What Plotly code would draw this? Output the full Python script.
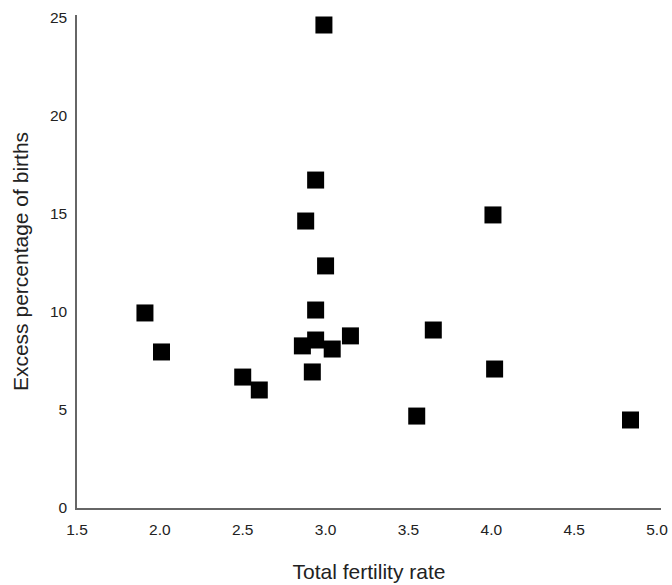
import plotly.graph_objects as go

fertility_rate = [1.91, 2.01, 2.50, 2.60, 2.86, 2.88, 2.92, 2.94, 2.94, 2.94,
                  2.99, 3.00, 3.04, 3.15, 3.55, 3.65, 4.01, 4.02, 4.84]
excess_births = [9.95, 7.96, 6.68, 6.02, 8.27, 14.64, 6.94, 16.73, 10.10, 8.57,
                 24.64, 12.35, 8.11, 8.78, 4.69, 9.08, 14.95, 7.09, 4.49]
x_ticks = [1.5, 2.0, 2.5, 3.0, 3.5, 4.0, 4.5, 5.0]
y_ticks = [0, 5, 10, 15, 20, 25]

fig = go.Figure(go.Scatter(
    x=fertility_rate, y=excess_births, mode="markers",
    marker=dict(symbol="square", size=17, color="black", line=dict(width=0)),
))

font = "Liberation Sans, Arial, sans-serif"
fig.update_layout(
    width=672, height=585,
    margin=dict(l=77, r=11, t=15, b=77),
    plot_bgcolor="white", paper_bgcolor="white",
    showlegend=False,
    font=dict(family=font, size=15.5, color="#222"),
    xaxis=dict(
        range=[1.5, 5.024], tickvals=x_ticks, ticktext=[f"{v:.1f}" for v in x_ticks],
        showgrid=False, zeroline=False, showline=True, linecolor="#666", linewidth=1.5,
        ticks="", ticklabelstandoff=7, automargin=False,
        title=dict(text="Total fertility rate", font=dict(size=21, color="#222"), standoff=27),
    ),
    yaxis=dict(
        range=[0, 25.15], tickvals=y_ticks,
        showgrid=False, zeroline=False, showline=True, linecolor="#666", linewidth=1.5,
        ticks="", ticklabelstandoff=5, automargin=False,
        title=dict(text="Excess percentage of births", font=dict(size=21, color="#222"), standoff=16),
    ),
)

fig.write_html(
    "out.html",
    config={"displayModeBar": False},
    post_script="document.body.style.margin='0';document.body.style.overflow='hidden';",
)
